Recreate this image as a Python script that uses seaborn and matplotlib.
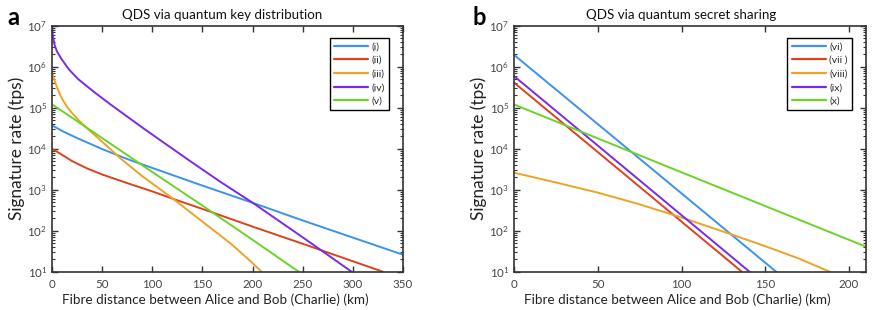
import numpy as np
import pandas as pd
import matplotlib
matplotlib.use("Agg")
import matplotlib.pyplot as plt
import seaborn as sns
from matplotlib.ticker import LogLocator, NullFormatter

# ---------------- data (panel a: QKD) ----------------
km_i = [0, 12, 25, 50, 75, 100, 150, 200, 250, 300, 350]
tps_i = [3.7e4, 2.57e4, 1.82e4, 9.8e3, 5.6e3, 3.4e3, 1.26e3, 4.8e2, 1.78e2, 68, 26]
km_ii = [0, 10, 20, 35, 50, 75, 100, 125, 150, 200, 250, 300, 330]
tps_ii = [1.0e4, 7.1e3, 5.0e3, 3.3e3, 2.35e3, 1.45e3, 9.1e2, 5.5e2, 3.4e2, 1.26e2, 48, 18, 10]
km_iii = [0, 3, 6, 10, 15, 20, 26, 34, 42.7, 55, 69.4, 90, 120, 150, 178, 195, 209]
tps_iii = [7.1e5, 4.2e5, 2.7e5, 1.66e5, 1.05e5, 7.4e4, 5.1e4, 3.3e4, 2.14e4, 1.15e4,
           5.5e3, 2.14e3, 6.2e2, 1.66e2, 49, 21, 10]
km_iv = [0, 1, 2.7, 5, 9.4, 17, 26, 42.7, 59.4, 92.7, 137.7, 167.5, 200.7, 250, 298.8]
tps_iv = [8.9e6, 5.2e6, 3.3e6, 2.34e6, 1.55e6, 8.5e5, 5.0e5, 2.34e5, 1.15e5, 2.95e4,
          5.0e3, 1.58e3, 4.7e2, 69, 10]
km_v = [1.5, 50, 100, 150, 200, 246]
tps_v = [1.15e5, 1.82e4, 2.7e3, 4.1e2, 60, 10]

# ---------------- data (panel b: QSS) ----------------
km_vi = [0, 75, 156.5]
tps_vi = [1.95e6, 5.7e3, 10]
km_vii = [0, 70, 136]
tps_vii = [4.1e5, 1.74e3, 10]
km_viii = [0, 25, 50, 75, 100, 125, 150, 170, 188.5]
tps_viii = [2.6e3, 1.5e3, 8.5e2, 4.4e2, 2.1e2, 95, 42, 21, 10]
km_ix = [0, 70, 140.6]
tps_ix = [5.9e5, 2.5e3, 10]
km_x = [0, 105, 210]
tps_x = [1.2e5, 2.2e3, 41]

labels_a = ["(i)", "(ii)", "(iii)", "(iv)", "(v)"]
labels_b = ["(vi)", "(vii )", "(viii)", "(ix)", "(x)"]
colors = ["#3C92EC", "#D9441C", "#EDA228", "#7A2BE8", "#6CD22A"]

titles = ["QDS via quantum key distribution", "QDS via quantum secret sharing"]
panel_letters = ["a", "b"]
xlabel = "Fibre distance between Alice and Bob (Charlie) (km)"
ylabel = "Signature rate (tps)"

def make_df(kms, tpss, labels):
    rows = []
    for k, t, l in zip(kms, tpss, labels):
        for a, b in zip(k, t):
            rows.append({"km": a, "tps": b, "curve": l})
    return pd.DataFrame(rows)

df_a = make_df([km_i, km_ii, km_iii, km_iv, km_v],
               [tps_i, tps_ii, tps_iii, tps_iv, tps_v], labels_a)
df_b = make_df([km_vi, km_vii, km_viii, km_ix, km_x],
               [tps_vi, tps_vii, tps_viii, tps_ix, tps_x], labels_b)

sns.set_theme(style="ticks")
plt.rcParams["font.family"] = ["Lato", "DejaVu Sans"]

fig = plt.figure(figsize=(8.73, 3.10), dpi=100)
ax_a = fig.add_axes([0.0596, 0.1235, 0.402, 0.7935])
ax_b = fig.add_axes([0.5888, 0.1235, 0.4029, 0.7935])

spine_col = "#333333"
xl_texts, yl_texts, ti_texts = [], [], []
for ax, df, labels, xmax, xt, title, letter, lx, xlc, tic in [
    (ax_a, df_a, labels_a, 350, np.arange(0, 351, 50), titles[0], panel_letters[0], -0.128, 0.466, 0.484),
    (ax_b, df_b, labels_b, 210, np.arange(0, 201, 50), titles[1], panel_letters[1], -0.119, 0.465, 0.475),
]:
    sns.lineplot(data=df, x="km", y="tps", hue="curve", hue_order=labels,
                 palette=colors, estimator=None, sort=False, linewidth=1.4,
                 ax=ax)
    ax.set_yscale("log")
    ax.set_xlim(0, xmax)
    ax.set_ylim(10, 1e7)
    ax.set_xticks(xt)
    ax.yaxis.set_major_locator(LogLocator(base=10, numticks=10))
    ax.yaxis.set_minor_locator(LogLocator(base=10, subs=np.arange(2, 10), numticks=20))
    ax.yaxis.set_minor_formatter(NullFormatter())
    ax.tick_params(which="both", direction="in", top=True, right=True,
                   colors=spine_col, labelcolor="#444444", labelsize=8.3)
    ax.tick_params(which="major", length=4, width=1)
    ax.tick_params(which="minor", length=2, width=0.8)
    ax.tick_params(axis="x", pad=5)
    for s in ax.spines.values():
        s.set_visible(True)
        s.set_color(spine_col)
        s.set_linewidth(1.2)
    xl = ax.set_xlabel(xlabel, fontsize=10, color="#222222")
    ax.xaxis.set_label_coords(xlc, -0.09)
    yl = ax.set_ylabel(ylabel, fontsize=11, color="#222222", labelpad=2)
    ti = ax.text(tic, 1.0435, title, transform=ax.transAxes, fontsize=10,
                 color="#111111", ha="center", va="center")
    xl_texts.append(xl); yl_texts.append(yl); ti_texts.append(ti)
    ax.text(lx, 1.035, letter, transform=ax.transAxes, fontsize=17,
            fontweight="bold", ha="left", va="center", color="black")
    leg = ax.legend(loc="upper right", fontsize=7.5, handlelength=3.3,
                    handletextpad=0.3, labelspacing=0.42, borderpad=0.4,
                    fancybox=False, framealpha=1, edgecolor="black",
                    bbox_to_anchor=(0.975, 0.972))
    leg.get_frame().set_linewidth(1.0)
    for line in leg.get_lines():
        line.set_linewidth(1.6)

# fit text sizes to the widths measured on the reference (pixels)
fig.canvas.draw()
r = fig.canvas.get_renderer()
def fit(texts, target, dim):
    bb = texts[0].get_window_extent(r)
    cur = bb.width if dim == "w" else bb.height
    fs = texts[0].get_fontsize() * target / cur
    for t in texts:
        t.set_fontsize(fs)
fit(xl_texts, 305, "w")
fit(yl_texts, 143, "h")
fit(ti_texts, 200, "w")

fig.savefig("out.png", dpi=100)
